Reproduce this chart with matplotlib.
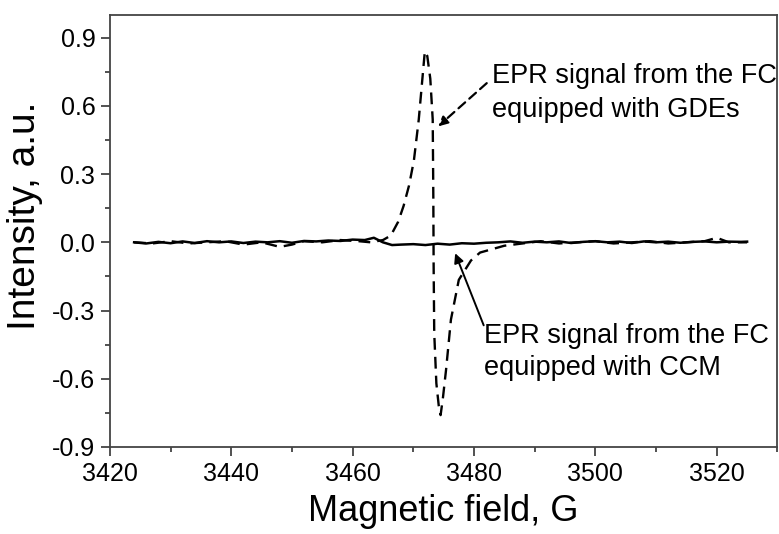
import matplotlib.pyplot as plt
from matplotlib.ticker import MultipleLocator, FormatStrFormatter

plt.rcParams['font.family'] = ['Liberation Sans', 'DejaVu Sans']
plt.rcParams['axes.unicode_minus'] = False

# EPR signal, FC with GDEs (dashed)
gde_field = [3424, 3427, 3430, 3433, 3436, 3439, 3442, 3445, 3448, 3450, 3452,
             3455, 3458, 3461, 3463, 3465, 3466.3, 3467.5, 3468.4, 3469.3,
             3470.1, 3470.9, 3471.5, 3471.9, 3472.3, 3472.8, 3473.2, 3473.3,
             3473.35, 3473.45, 3473.8, 3474.2, 3474.5, 3474.9, 3475.4, 3476.2,
             3477.5, 3479.5, 3481, 3483, 3485, 3488, 3491, 3494, 3497, 3500,
             3503, 3506, 3509, 3512, 3515, 3518, 3520, 3522, 3525]
gde_int = [0.0, -0.005, 0.005, -0.005, 0.0, 0.005, -0.01, 0.0, -0.02, -0.01,
           0.005, 0.0, 0.01, 0.005, 0.0, 0.01, 0.03, 0.09, 0.16, 0.25,
           0.36, 0.54, 0.72, 0.84, 0.82, 0.72, 0.54, 0.2,
           -0.1, -0.4, -0.62, -0.72, -0.76, -0.68, -0.56, -0.34,
           -0.165, -0.08, -0.045, -0.03, -0.015, -0.005, 0.005, -0.005, 0.0, 0.005,
           -0.005, 0.0, 0.005, -0.005, 0.0, 0.005, 0.02, 0.0, 0.0]

# EPR signal, FC with CCM (solid)
ccm_field = [3424, 3426, 3428, 3430, 3432, 3434, 3436, 3438, 3440, 3442, 3444,
             3446, 3448, 3450, 3452, 3454, 3456, 3458, 3460, 3462, 3463.5,
             3465, 3466.5, 3468, 3470, 3472, 3474, 3476, 3478, 3480, 3482,
             3484, 3486, 3488, 3490, 3492, 3494, 3496, 3498, 3500, 3502, 3504,
             3506, 3508, 3510, 3512, 3514, 3516, 3518, 3520, 3522, 3524, 3525]
ccm_int = [0.0, -0.005, 0.002, -0.004, 0.004, -0.003, 0.005, 0.0, 0.004, -0.003, 0.003,
           0.0, 0.005, -0.002, 0.006, 0.004, 0.008, 0.006, 0.012, 0.01, 0.02,
           0.0, -0.012, -0.01, -0.008, -0.012, -0.006, -0.01, -0.004, -0.006, -0.002,
           0.0, 0.004, -0.002, 0.003, 0.0, 0.004, -0.003, 0.002, 0.005, 0.0, 0.003,
           -0.003, 0.004, 0.0, 0.003, -0.002, 0.002, 0.004, 0.0, 0.003, 0.002, 0.003]

x_ticks = [3420, 3440, 3460, 3480, 3500, 3520]
y_ticks = [-0.9, -0.6, -0.3, 0.0, 0.3, 0.6, 0.9]

fig = plt.figure(figsize=(7.79, 5.34), dpi=100)
ax = fig.add_axes([0.141, 0.163, 0.857, 0.809])

ax.plot(gde_field, gde_int, color='black', lw=1.7, dashes=(5, 3))
ax.plot(ccm_field, ccm_int, color='black', lw=1.8)

ax.set_xlim(3420, 3530)
ax.set_ylim(-0.9, 1.0)
ax.set_xticks(x_ticks)
ax.set_yticks(y_ticks)
ax.xaxis.set_minor_locator(MultipleLocator(10))
ax.yaxis.set_minor_locator(MultipleLocator(0.15))
ax.yaxis.set_major_formatter(FormatStrFormatter('%.1f'))

ax.tick_params(which='both', direction='out', top=False, right=False,
               labelsize=18, width=1.2, color='#333333')
ax.tick_params(which='major', length=6.5, pad=4)
ax.tick_params(which='minor', length=3.5)
for s in ax.spines.values():
    s.set_linewidth(1.3)
    s.set_color('#444444')

ax.set_xlabel('Magnetic field, G', fontsize=26, labelpad=6)
ax.set_ylabel('Intensity, a.u.', fontsize=28)
ax.yaxis.set_label_coords(-0.1, 0.535)

ax.text(3483.0, 0.79, 'EPR signal from the FC\nequipped with GDEs',
        fontsize=19.5, ha='left', va='top', linespacing=1.4)
ax.annotate('', xy=(3474.1, 0.51), xytext=(3482.1, 0.70),
            arrowprops=dict(arrowstyle='-|>', color='black', lw=1.6,
                            linestyle=(0, (4, 2.5)), mutation_scale=14,
                            shrinkA=0, shrinkB=0))

ax.text(3481.7, -0.355, 'EPR signal from the FC\nequipped with CCM',
        fontsize=19.5, ha='left', va='top', linespacing=1.3)
ax.annotate('', xy=(3476.9, -0.048), xytext=(3481.6, -0.365),
            arrowprops=dict(arrowstyle='-|>', color='black', lw=1.4,
                            mutation_scale=14, shrinkA=0, shrinkB=0))

fig.savefig('out.png', dpi=100)
